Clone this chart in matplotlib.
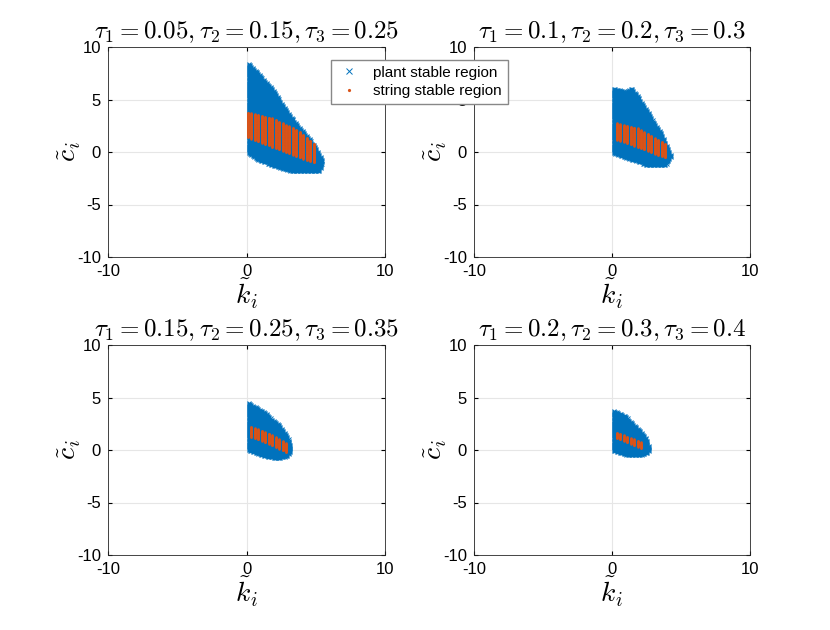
import numpy as np
import matplotlib.pyplot as plt
from matplotlib.path import Path

plt.rcParams['font.family'] = ['Liberation Sans', 'DejaVu Sans']
plt.rcParams['mathtext.fontset'] = 'cm'
plt.rcParams['axes.unicode_minus'] = False

blue = '#0072BD'
orange = '#D95319'

titles = [r'$\tau_1=0.05,\tau_2=0.15,\tau_3=0.25$',
          r'$\tau_1=0.1,\tau_2=0.2,\tau_3=0.3$',
          r'$\tau_1=0.15,\tau_2=0.25,\tau_3=0.35$',
          r'$\tau_1=0.2,\tau_2=0.3,\tau_3=0.4$']

# region outlines, (k, c) vertices
plant1 = [(0.05, 8.6), (1.9, 6.0), (3.3, 3.2), (5.0, 0.5), (5.5, -0.9), (5.3, -1.8),
          (4.5, -1.9), (3.1, -1.8), (0.9, -0.85), (0.05, -0.1)]
plant2 = [(0.05, 6.1), (0.9, 5.8), (1.05, 5.7), (1.4, 6.1), (1.9, 5.3), (2.7, 3.6),
          (3.6, 1.7), (4.3, -0.4), (3.9, -1.2), (2.7, -1.3), (1.3, -0.75), (0.05, -0.1)]
plant3 = [(0.05, 4.6), (1.17, 3.7), (2.4, 2.4), (3.1, 0.9), (3.25, -0.05), (3.0, -0.6),
          (2.26, -0.9), (1.17, -0.6), (0.05, 0.0)]
plant4 = [(0.05, 3.8), (1.0, 3.2), (2.0, 1.9), (2.6, 0.9), (2.7, 0.1), (2.6, -0.3),
          (2.0, -0.6), (1.0, -0.5), (0.05, -0.1)]

string1 = [(0.05, 3.8), (1.9, 3.2), (3.8, 2.0), (5.05, 0.6), (5.05, -1.1), (3.8, -0.5),
           (1.9, 0.45), (0.05, 1.4)]
string2 = [(0.15, 2.8), (1.9, 2.25), (4.05, 0.65), (4.05, -0.65), (1.9, 0.45), (0.15, 1.25)]
string3 = [(0.1, 2.35), (1.67, 1.55), (3.05, 0.5), (3.05, -0.35), (1.67, 0.55), (0.1, 1.35)]
string4 = [(0.2, 1.75), (2.3, 0.65), (2.3, 0.05), (0.2, 1.2)]

plant_regions = [plant1, plant2, plant3, plant4]
string_regions = [string1, string2, string3, string4]

# axes boxes in pixels (left, top, right, bottom) of an 830x630 figure
boxes = [(108, 47, 385, 257), (474, 47, 750, 257),
         (108, 345, 385, 555), (474, 345, 750, 555)]


def grid_in(poly, dk, dc, k0):
    path = Path(poly)
    ks = np.arange(k0, 7, dk)
    cs = np.arange(-3, 10, dc)
    K, C = np.meshgrid(ks, cs)
    pts = np.column_stack([K.ravel(), C.ravel()])
    inside = path.contains_points(pts)
    return pts[inside, 0], pts[inside, 1]


fig = plt.figure(figsize=(8.3, 6.3), dpi=100)

for i in range(4):
    l, t, r, b = boxes[i]
    ax = fig.add_axes([l / 830, 1 - b / 630, (r - l) / 830, (b - t) / 630])
    kp, cp = grid_in(plant_regions[i], 0.1, 0.1, 0.05)
    ks, cs = grid_in(string_regions[i], 0.25, 0.04, 0.1)
    h1, = ax.plot(kp, cp, 'x', color=blue, markersize=3, markeredgewidth=0.7,
                  label='plant stable region')
    h2, = ax.plot(ks, cs, '.', color=orange, markersize=1.6,
                  label='string stable region')
    h2.set_snap(False)
    ax.set_xlim(-10, 10)
    ax.set_ylim(-10, 10)
    ax.set_xticks([-10, 0, 10])
    ax.set_yticks([-10, -5, 0, 5, 10])
    ax.tick_params(direction='in', labelsize=12, length=3, top=True, right=True, pad=5)
    ax.grid(True, color='#e6e6e6', linewidth=0.8)
    ax.set_axisbelow(True)
    for s in ax.spines.values():
        s.set_color('#262626')
        s.set_linewidth(0.6)
    ax.set_title(titles[i], fontsize=18, pad=6)
    ax.set_xlabel(r'$\tilde{k}_i$', fontsize=20, labelpad=-2)
    ax.set_ylabel(r'$\tilde{c}_i$', fontsize=20, labelpad=-4)

leg = fig.legend([h1, h2], ['plant stable region', 'string stable region'],
                 loc='upper left', bbox_to_anchor=(323 / 830, 1 - 52 / 630),
                 fontsize=11, fancybox=False, edgecolor='#888888', framealpha=1,
                 handlelength=1.6, borderpad=0.4, labelspacing=0.3, markerscale=1.6)

fig.savefig('out.png', dpi=100)
